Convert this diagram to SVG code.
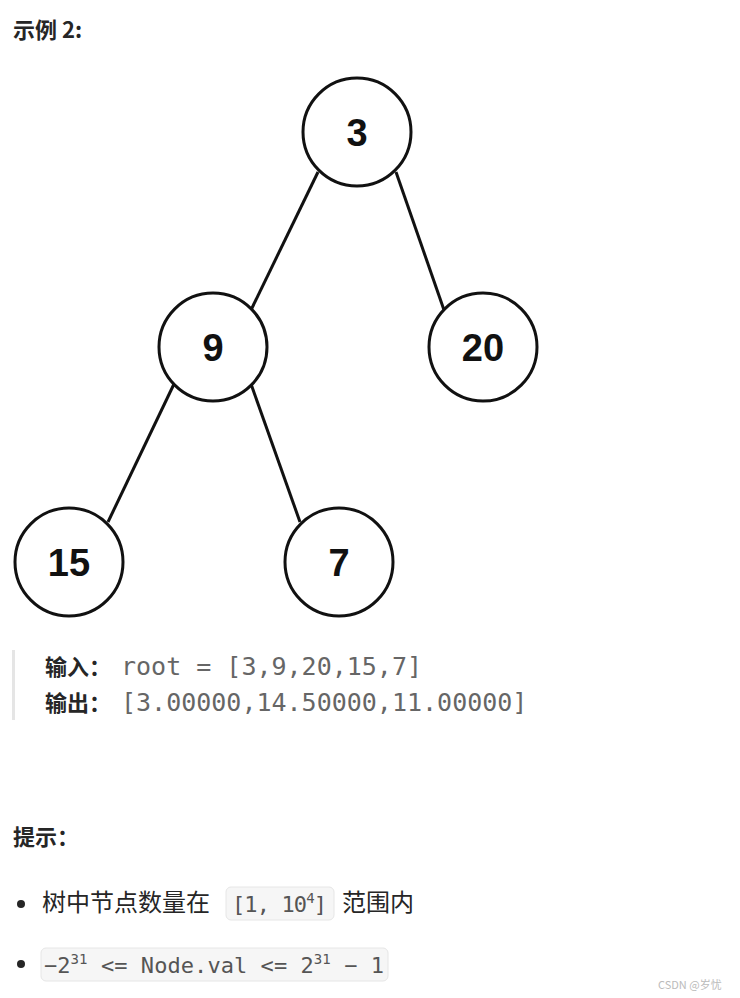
<svg xmlns="http://www.w3.org/2000/svg" width="740" height="998" viewBox="0 0 740 998">
<style>
.n{fill:#fff;stroke:#111;stroke-width:3}
.l{font-family:"Liberation Sans",Arial,sans-serif;font-weight:bold;font-size:38px;fill:#111;text-anchor:middle}
.e{stroke:#111;stroke-width:3}
.b{font-family:"Noto Sans CJK SC","Liberation Sans",sans-serif;font-weight:bold;font-size:22px;fill:#262626}
.t{font-family:"Noto Sans CJK SC","Liberation Sans",sans-serif;font-size:24px;fill:#262626}
.m{font-family:"DejaVu Sans Mono","Liberation Mono",monospace;font-size:25px;fill:#666}
.c{font-family:"DejaVu Sans Mono","Liberation Mono",monospace;font-size:22px;fill:#555}
.k{fill:#f6f6f6;stroke:#e6e6e6}
</style>
<rect width="740" height="998" fill="#fff"/>
<text class="b" x="13" y="38">示例 2:</text>
<g id="edges">
<line class="e" x1="318" y1="172" x2="251" y2="310"/>
<line class="e" x1="396" y1="172" x2="444" y2="310"/>
<line class="e" x1="174" y1="384" x2="108" y2="522"/>
<line class="e" x1="251" y1="384" x2="300" y2="522"/>
</g>
<g id="n3"><circle class="n" cx="357" cy="132" r="54"/><text class="l" x="357" y="146">3</text></g>
<g id="n9"><circle class="n" cx="213" cy="347" r="54"/><text class="l" x="213" y="361">9</text></g>
<g id="n20"><circle class="n" cx="483" cy="347" r="54"/><text class="l" x="483" y="361">20</text></g>
<g id="n15"><circle class="n" cx="69" cy="562" r="54"/><text class="l" x="69" y="576">15</text></g>
<g id="n7"><circle class="n" cx="339" cy="562" r="54"/><text class="l" x="339" y="576">7</text></g>
<rect x="12" y="650" width="3" height="70" fill="#e5e5e5"/>
<text class="b" x="45" y="675">输入：</text>
<text class="m" x="121" y="675">root = [3,9,20,15,7]</text>
<text class="b" x="45" y="711">输出：</text>
<text class="m" x="121" y="711">[3.00000,14.50000,11.00000]</text>
<text class="b" x="13" y="845">提示：</text>
<circle cx="21" cy="904" r="4" fill="#262626"/>
<text class="t" x="42" y="911">树中节点数量在</text>
<rect class="k" x="226" y="887" width="108" height="33" rx="5"/>
<text class="c" x="232" y="912" textLength="95">[1, 10<tspan font-size="14" dy="-9">4</tspan><tspan dy="9">]</tspan></text>
<text class="t" x="342" y="911">范围内</text>
<circle cx="21" cy="964" r="4" fill="#262626"/>
<rect class="k" x="41" y="948" width="347" height="33" rx="5"/>
<text class="c" x="44" y="973" textLength="340">−2<tspan font-size="14" dy="-9">31</tspan><tspan dy="9"> &lt;= Node.val &lt;= 2</tspan><tspan font-size="14" dy="-9">31</tspan><tspan dy="9"> − 1</tspan></text>
<text x="658" y="989" font-family="Noto Sans CJK SC,Liberation Sans,sans-serif" font-size="11" fill="#bbb">CSDN @岁忧</text>
</svg>
